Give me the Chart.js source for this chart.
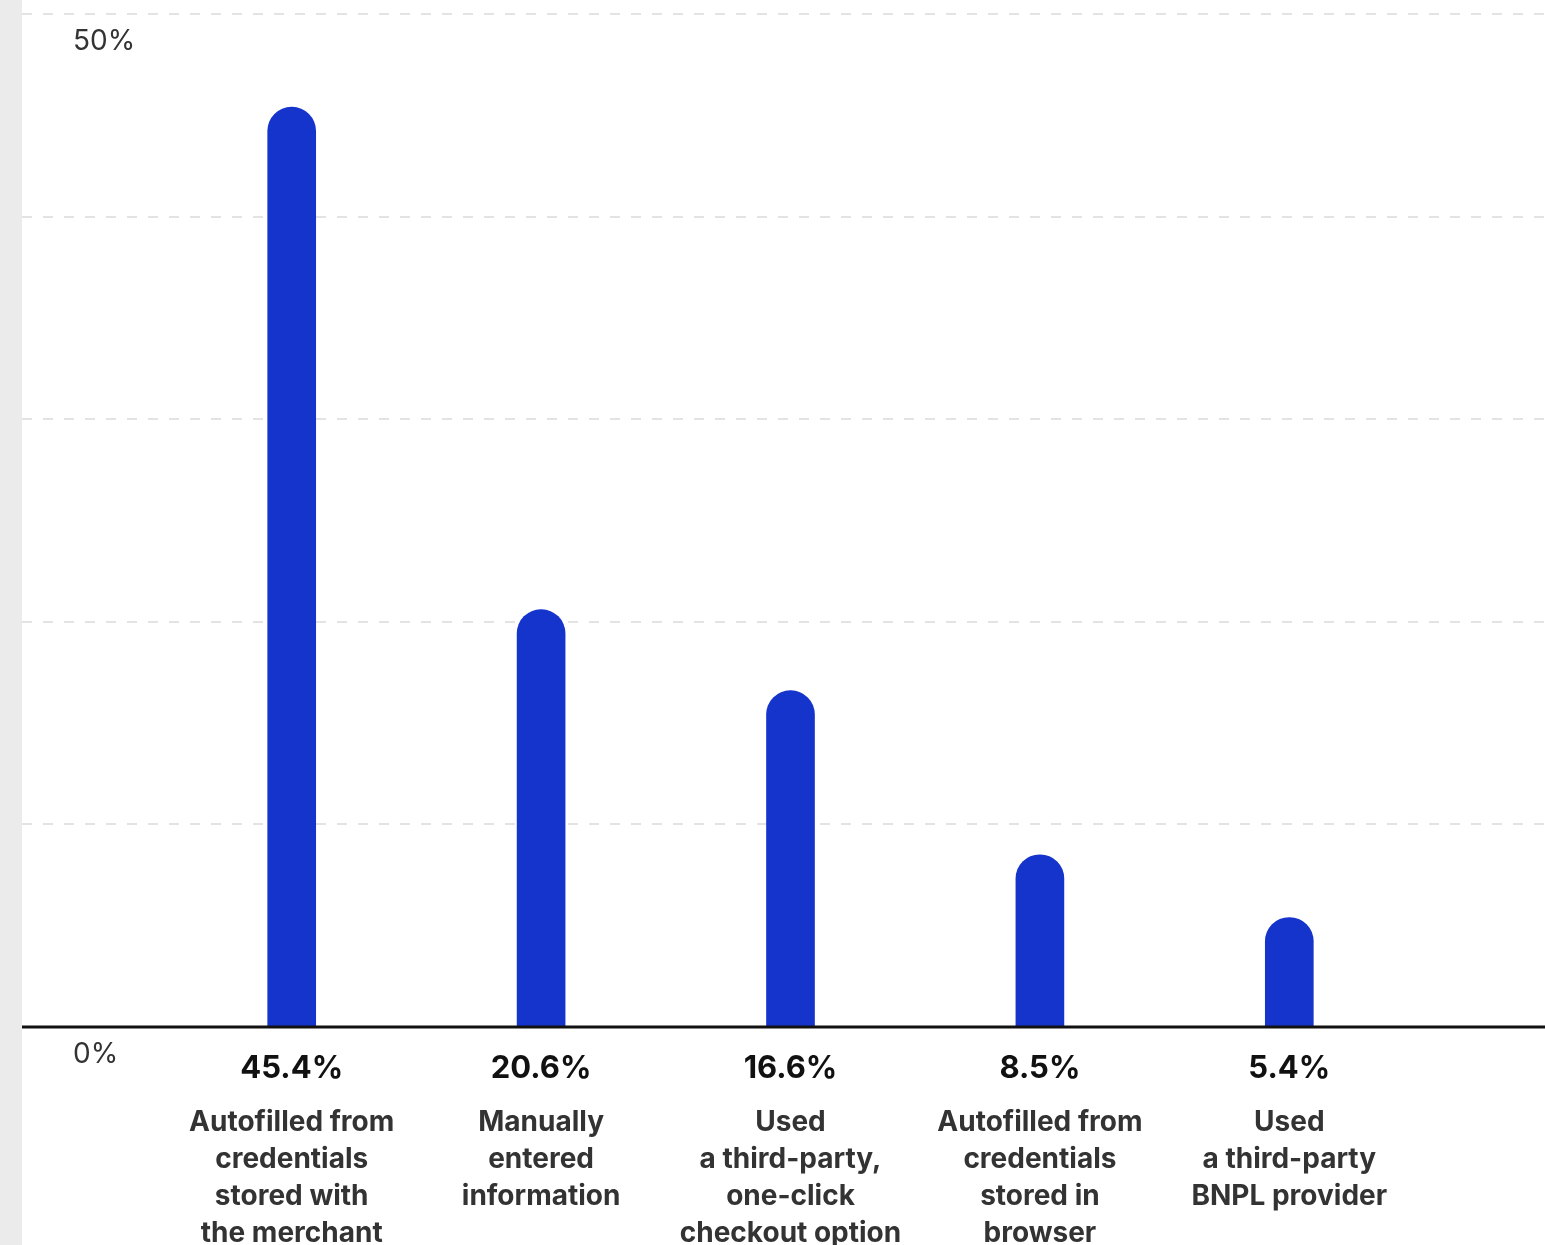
<!DOCTYPE html>
<html>
<head>
<meta charset="utf-8">
<script src="https://cdn.jsdelivr.net/npm/chart.js@4.4.0/dist/chart.umd.min.js"></script>
<style>
  html, body {
    margin: 0;
    padding: 0;
    background: linear-gradient(to right, #ebebeb 0, #ebebeb 22px, #ffffff 22px);
  }
  #wrap { width: 1545px; height: 1245px; position: relative; }
</style>
</head>
<body>
<div id="wrap"><canvas id="checkout-chart"></canvas></div>
<script>
const categories = [
  ["Autofilled from", "credentials", "stored with", "the merchant"],
  ["Manually", "entered", "information"],
  ["Used", "a third-party,", "one-click", "checkout option"],
  ["Autofilled from", "credentials", "stored in", "browser"],
  ["Used", "a third-party", "BNPL provider"],
];
const shares = [45.4, 20.6, 16.6, 8.5, 5.4];
const axisLabels = [0, 50];
const gridValues = [10, 20, 30, 40, 50];

const FONT = "Inter, 'Noto Sans', sans-serif";
const BLUE = "#1534cc";

// dashed guides across the full width, solid baseline, value labels, y labels
const decorations = {
  id: "decorations",
  beforeDatasetsDraw(chart) {
    const { ctx, scales: { y } } = chart;
    ctx.save();
    ctx.strokeStyle = "#e3e3e3";
    ctx.lineWidth = 2;
    ctx.setLineDash([10, 11]);
    gridValues.forEach((v) => {
      const py = Math.round(y.getPixelForValue(v));
      ctx.beginPath();
      ctx.moveTo(22, py);
      ctx.lineTo(chart.width, py);
      ctx.stroke();
    });
    ctx.restore();
  },
  afterDatasetsDraw(chart) {
    const { ctx, scales: { x, y } } = chart;
    ctx.save();
    const base = y.getPixelForValue(0);
    ctx.strokeStyle = "#111";
    ctx.lineWidth = 3;
    ctx.beginPath();
    ctx.moveTo(22, base);
    ctx.lineTo(chart.width, base);
    ctx.stroke();

    ctx.fillStyle = "#333";
    ctx.font = "400 28px " + FONT;
    ctx.textAlign = "left";
    ctx.textBaseline = "middle";
    axisLabels.forEach((v) => {
      ctx.fillText(v + "%", 73, y.getPixelForValue(v) + 28);
    });

    ctx.fillStyle = "#111";
    ctx.font = "700 31px " + FONT;
    ctx.textAlign = "center";
    shares.forEach((v, i) => {
      ctx.fillText(v.toFixed(1) + "%", x.getPixelForValue(i), base + 42);
    });
    ctx.restore();
  },
};

new Chart(document.getElementById("checkout-chart"), {
  type: "bar",
  data: {
    labels: categories,
    datasets: [
      {
        data: shares,
        backgroundColor: BLUE,
        barThickness: 48,
        borderRadius: { topLeft: 24, topRight: 24 },
        borderSkipped: "bottom",
      },
    ],
  },
  options: {
    responsive: true,
    maintainAspectRatio: false,
    animation: false,
    layout: { padding: { top: 14, left: 167, right: 131, bottom: 0 } },
    plugins: {
      legend: { display: false },
      tooltip: { enabled: false },
    },
    scales: {
      y: {
        display: false,
        min: 0,
        max: 50,
      },
      x: {
        grid: { display: false },
        border: { display: false },
        afterFit(axis) {
          axis.height = 218;
        },
        ticks: {
          color: "#333",
          padding: 69,
          maxRotation: 0,
          autoSkip: false,
          font: { family: FONT, weight: "bold", size: 28, lineHeight: 37 / 28 },
        },
      },
    },
  },
  plugins: [decorations],
});
</script>
</body>
</html>
